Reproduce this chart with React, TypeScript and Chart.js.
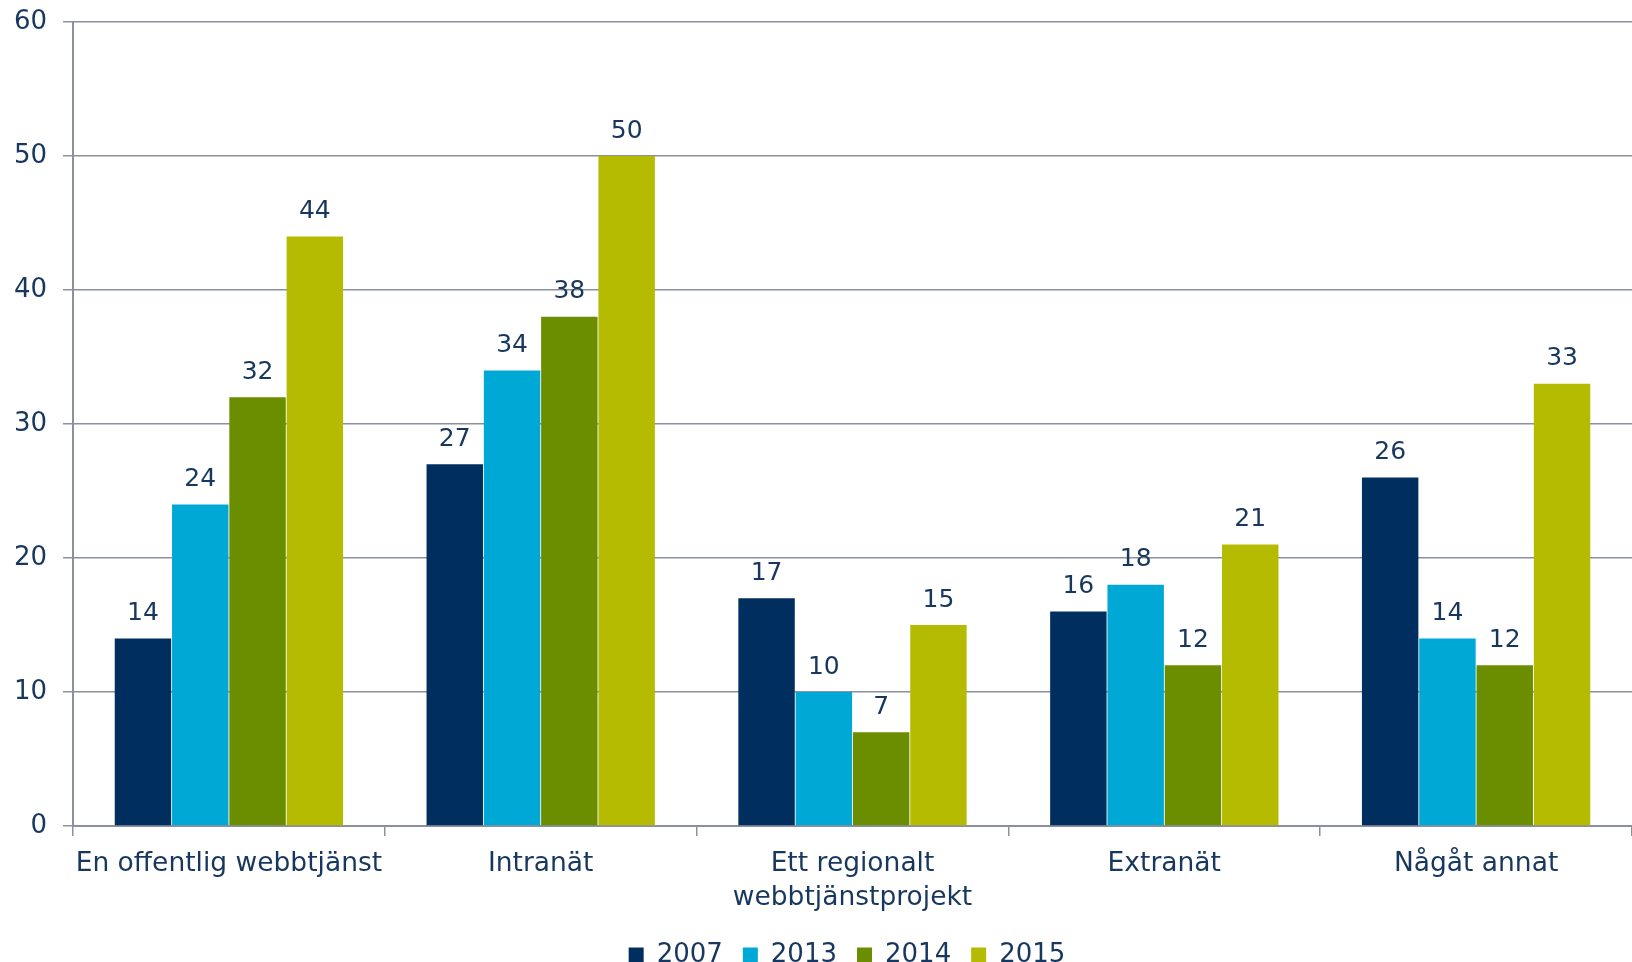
import React, { useEffect, useRef } from "react";
import { Chart, registerables } from "chart.js";

Chart.register(...registerables);

const categories: (string | string[])[] = [
  "En offentlig webbtjänst",
  "Intranät",
  ["Ett regionalt", "webbtjänstprojekt"],
  "Extranät",
  "Någåt annat",
];
const seriesNames = ["2007", "2013", "2014", "2015"];
const values2007 = [14, 27, 17, 16, 26];
const values2013 = [24, 34, 10, 18, 14];
const values2014 = [32, 38, 7, 12, 12];
const values2015 = [44, 50, 15, 21, 33];
const seriesColors = ["#002F5F", "#00A8D6", "#6B8E00", "#B5BB00"];
const yTicks = [0, 10, 20, 30, 40, 50, 60];

const TEXT = "#17375E";
const GRID = "#8C8FA0";
const FONT = "'DejaVu Sans', Verdana, sans-serif";

const dataLabels = {
  id: "dataLabels",
  afterDatasetsDraw(chart: any) {
    const ctx = chart.ctx;
    ctx.save();
    ctx.fillStyle = TEXT;
    ctx.font = `25px ${FONT}`;
    ctx.textAlign = "center";
    ctx.textBaseline = "middle";
    chart.data.datasets.forEach((ds: any, i: number) => {
      const meta = chart.getDatasetMeta(i);
      meta.data.forEach((bar: any, j: number) => {
        ctx.fillText(String(ds.data[j]), bar.x, bar.y - 25);
      });
    });
    ctx.restore();
  },
};

const legendShift = {
  id: "legendShift",
  afterLayout(chart: any) {
    if (chart.legend) {
      chart.legend.left += 31;
      chart.legend.right += 31;
    }
  },
};

export default function App() {
  const ref = useRef<HTMLCanvasElement>(null);
  useEffect(() => {
    const all = [values2007, values2013, values2014, values2015];
    const chart = new Chart(ref.current!, {
      type: "bar",
      data: {
        labels: categories,
        datasets: all.map((d, i) => ({
          label: seriesNames[i],
          data: d,
          backgroundColor: seriesColors[i],
          borderWidth: 0,
          categoryPercentage: 0.735,
          barPercentage: 0.985,
        })),
      },
      options: {
        animation: false,
        responsive: false,
        maintainAspectRatio: false,
        layout: { padding: { top: 22, right: 0, left: 0, bottom: -16 } },
        plugins: {
          tooltip: { enabled: false },
          legend: {
            position: "bottom",
            labels: {
              color: TEXT,
              font: { family: FONT, size: 26 },
              boxWidth: 15,
              boxHeight: 15,
              padding: 20,
            },
          },
        },
        scales: {
          x: {
            afterFit: (axis: any) => {
              axis.height = 96;
            },
            grid: {
              display: true,
              drawOnChartArea: false,
              drawTicks: true,
              tickLength: 10,
              color: GRID,
              lineWidth: 1.5,
              offset: true,
            },
            border: { color: GRID, width: 2 },
            ticks: {
              color: TEXT,
              font: { family: FONT, size: 26.5, lineHeight: 1.28 },
              padding: 11,
              maxRotation: 0,
              autoSkip: false,
            },
          },
          y: {
            min: 0,
            max: 60,
            afterBuildTicks: (axis: any) => {
              axis.ticks = yTicks.map((v) => ({ value: v }));
            },
            afterFit: (axis: any) => {
              axis.width = 73;
              axis.paddingTop = 0;
              axis.paddingBottom = 0;
            },
            grid: {
              color: GRID,
              lineWidth: 1.5,
              tickLength: 10,
            },
            border: { color: GRID, width: 2 },
            ticks: {
              color: TEXT,
              font: { family: FONT, size: 26 },
              padding: 16,
            },
          },
        },
      },
      plugins: [dataLabels, legendShift],
    });
    return () => chart.destroy();
  }, []);
  return (
    <div style={{ position: "fixed", left: 0, top: 0, width: 1632, height: 962, background: "#fff" }}>
      <canvas ref={ref} width={1632} height={962} style={{ width: 1632, height: 962 }} />
    </div>
  );
}
